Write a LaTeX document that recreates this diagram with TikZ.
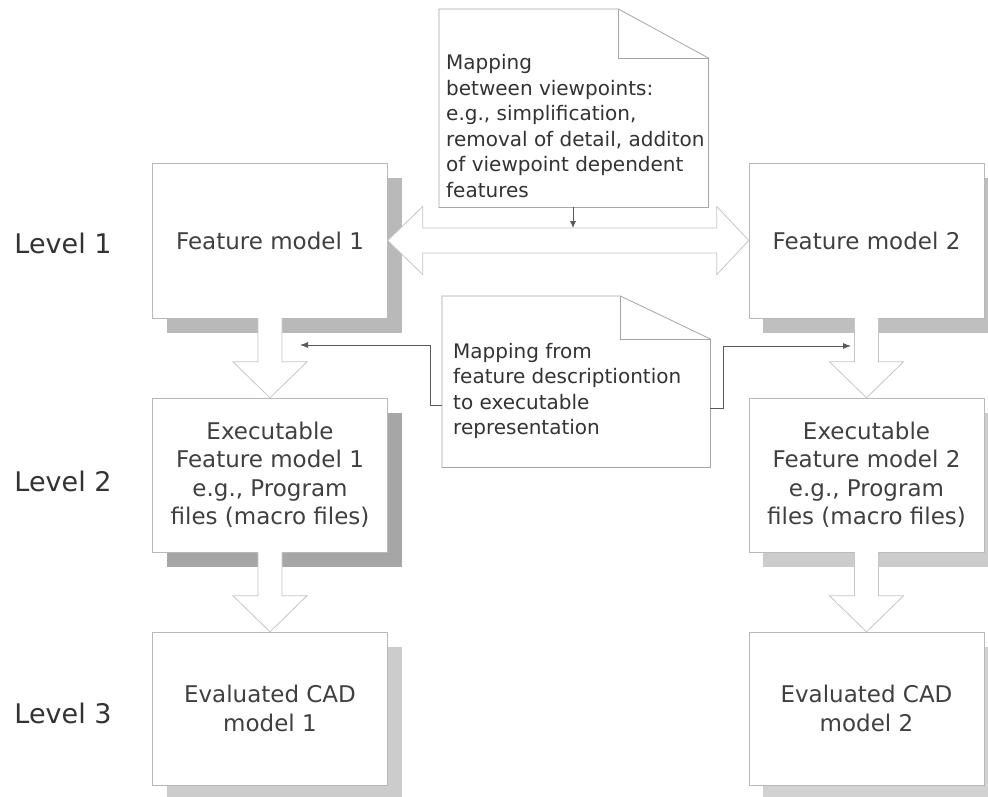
\documentclass[tikz,border=0pt]{standalone}
\usepackage{fontspec}
\setmainfont{DejaVu Sans}
\usetikzlibrary{shadows,calc,arrows.meta}

\tikzset{
    model/.style={draw=gray!55, fill=white, text=black!75, align=center,
        minimum width=235pt, minimum height=155pt, inner sep=0pt,
        font=\fontsize{23}{28.5}\selectfont,
        drop shadow={shadow xshift=14pt, shadow yshift=-15pt, fill=#1, opacity=1}},
    model/.default=gray!55,
    level/.style={text=black!80, font=\fontsize{27}{32}\selectfont},
    note/.style={draw=none, inner sep=0pt, anchor=north west},
    noteline/.style={draw=gray!70, fill=white, line width=0.8pt},
    notetext/.style={anchor=west, align=left, inner sep=0pt, text=black!80,
        font=\fontsize{20}{25.5}\selectfont},
    block/.style={draw=gray!45, fill=white, line width=0.8pt, line join=miter},
    link/.style={draw=black!65, line width=0.8pt, -{Latex[length=8pt,width=6pt]}}
}

\begin{document}
\begin{tikzpicture}[x=1pt, y=-1pt]
    \useasboundingbox (0,0) rectangle (988,796);
    \fill[white] (0,0) rectangle (988,796);

    \node[level] (lev1) at (63,243) {Level 1};
    \node[level] (lev2) at (63,481) {Level 2};
    \node[level] (lev3) at (63,713) {Level 3};

    \node[model=gray!55] (fm1) at (270,240.5) {Feature model 1};
    \node[model=gray!50] (fm2) at (866.5,240.5) {Feature model 2};
    \node[model=gray!70, minimum height=154pt] (ex1) at (270,475)
        {Executable\\Feature model 1\\e.g., Program\\files (macro files)};
    \node[model=gray!40, minimum height=154pt] (ex2) at (866.5,475)
        {Executable\\Feature model 2\\e.g., Program\\files (macro files)};
    \node[model=gray!40, minimum height=153pt] (ev1) at (270,708.5)
        {Evaluated CAD\\model 1};
    \node[model=gray!35, minimum height=153pt] (ev2) at (866.5,708.5)
        {Evaluated CAD\\model 2};

    \foreach \a/\b in {fm1/ex1,fm2/ex2,ex1/ev1,ex2/ev2}
        \draw[block] ($(\a.south)+(-12,0)$) -- ($(\b.north)+(-12,-36)$)
            -- ($(\b.north)+(-37,-36)$) -- (\b.north) -- ($(\b.north)+(37,-36)$)
            -- ($(\b.north)+(12,-36)$) -- ($(\a.south)+(12,0)$);

    \draw[block] (fm1.east) -- ++(35,-34) -- ++(0,21.5)
        -- ($(fm2.west)+(-32,-12.5)$) -- ++(0,-21.5) -- (fm2.west)
        -- ++(-32,34) -- ++(0,-21.5) -- ($(fm1.east)+(35,12.5)$)
        -- ++(0,21.5) -- cycle;

    \node[note, minimum width=269pt, minimum height=198pt] (note1) at (439,9) {};
    \draw[noteline] (note1.north west) -- ($(note1.north east)+(-90,0)$)
        -- ($(note1.north east)+(0,49)$) -- (note1.south east)
        -- (note1.south west) -- cycle;
    \draw[noteline, fill=none] ($(note1.north east)+(-90,0)$) |- ($(note1.north east)+(0,49)$);
    \node[notetext] (note1txt) at ($(note1.west)+(7,18)$)
        {Mapping\\between viewpoints:\\e.g., simplification,\\removal of detail, additon\\of viewpoint  dependent\\features};

    \node[note, minimum width=268pt, minimum height=171pt] (note2) at (442,296) {};
    \draw[noteline] (note2.north west) -- ($(note2.north east)+(-90,0)$)
        -- ($(note2.north east)+(0,43)$) -- (note2.south east)
        -- (note2.south west) -- cycle;
    \draw[noteline, fill=none] ($(note2.north east)+(-90,0)$) |- ($(note2.north east)+(0,43)$);
    \node[notetext] (note2txt) at ($(note2.west)+(11,9.5)$)
        {Mapping from\\feature descriptiontion\\to executable\\representation};

    \coordinate (n1foot) at ($(note1.south west)+(134,0)$);
    \coordinate (shafttop) at ($(fm1.east)!(n1foot)!(fm2.west)+(0,-12.5)$);
    \draw[link, -{Latex[length=7pt,width=6pt]}] (n1foot) -- (shafttop);

    \coordinate (tipleft) at (300,345);
    \coordinate (tipright) at (851,346);
    \draw[link] ($(note2.south west)+(0,-62)$) -- ++(-12,0) |- (tipleft);
    \draw[link] ($(note2.south east)+(0,-59)$) -- ++(13,0) |- (tipright);
\end{tikzpicture}
\end{document}
